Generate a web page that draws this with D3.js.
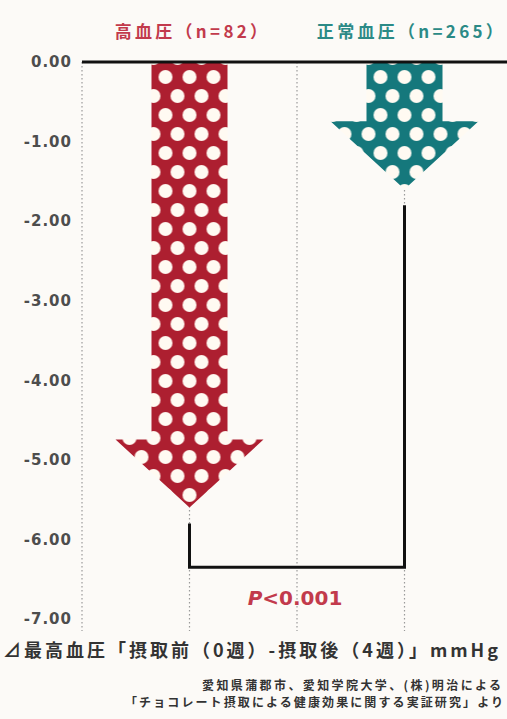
<!DOCTYPE html>
<html><head><meta charset="utf-8">
<script src="https://cdn.jsdelivr.net/npm/d3@7"></script>
<style>
html,body{margin:0;padding:0;background:#fcfaf7;}
svg{display:block;}
</style></head>
<body>
<script>
// ---- data ----
const categories = ["高血圧（n=82）", "正常血圧（n=265）"];
const values = [-5.6, -1.6];
const colors = ["#ad1f30", "#15787c"];
const labelColors = ["#c23a4c", "#2b8a86"];
const yTicks = [0, -1, -2, -3, -4, -5, -6, -7];
const bracketLevel = -6.35;
const pText = "<0.001";
const caption = "⊿最高血圧「摂取前（0週）-摂取後（4週）」mmHg";
const sourceLines = ["愛知県蒲郡市、愛知学院大学、(株)明治による", "「チョコレート摂取による健康効果に関する実証研究」より"];

const W = 507, H = 719;
const font = "'Noto Sans CJK JP','Noto Sans',sans-serif";
const svg = d3.select("body").append("svg").attr("width", W).attr("height", H);
svg.append("rect").attr("width", W).attr("height", H).attr("fill", "#fcfaf7");

const y = d3.scaleLinear().domain([0, -7]).range([62, 619]);
const x = d3.scaleLinear().domain([0, 4]).range([82, 512]);
const catX = i => x(i * 2 + 1);

// gridlines (dotted)
svg.append("g").selectAll("line").data([0, 1, 2, 3]).join("line")
  .attr("x1", d => x(d)).attr("x2", d => x(d))
  .attr("y1", y(0)).attr("y2", y(-7) + 12)
  .attr("stroke", "#9a9a9a").attr("stroke-width", 1.2)
  .attr("stroke-dasharray", "1.5,2.5");

// y axis labels
const yAxis = d3.axisLeft(y).tickValues(yTicks).tickFormat(d3.format(".2f")).tickSize(0).tickPadding(10);
const ga = svg.append("g").attr("transform", `translate(${x(0)},0)`).call(yAxis);
ga.select(".domain").remove();
ga.selectAll("text").attr("font-family", "'DejaVu Sans', sans-serif").attr("font-size", 15).attr("font-weight", "bold")
  .attr("letter-spacing", 1)
  .attr("fill", "#4d4d4d").text(d => d === 0 ? "0.00" : d3.format(".2f")(d).replace("−", "-"));

// patterns
const defs = svg.append("defs");
values.forEach((v, i) => {
  const cx = catX(i);
  const p = defs.append("pattern").attr("id", "dots" + i).attr("patternUnits", "userSpaceOnUse")
    .attr("x", cx).attr("y", 77).attr("width", 24).attr("height", 38);
  p.append("rect").attr("width", 24).attr("height", 38).attr("fill", colors[i]);
  [[0, 0], [24, 0], [0, 38], [24, 38], [12, 19]].forEach(([a, b]) =>
    p.append("circle").attr("cx", a).attr("cy", b).attr("r", 7).attr("fill", "#fffaf2"));
});

// arrows
const shaftHalf = 38, headHalf = 74, headH = 68;
values.forEach((v, i) => {
  const cx = catX(i), tip = y(v), top = y(0) + 1, sh = tip - headH;
  const path = d3.path();
  path.moveTo(cx - shaftHalf, top);
  path.lineTo(cx + shaftHalf, top);
  path.lineTo(cx + shaftHalf, sh);
  path.lineTo(cx + headHalf, sh);
  path.lineTo(cx, tip);
  path.lineTo(cx - headHalf, sh);
  path.lineTo(cx - shaftHalf, sh);
  path.closePath();
  svg.append("path").attr("d", path.toString()).attr("fill", `url(#dots${i})`);
});

// zero line
svg.append("line").attr("x1", x(0)).attr("x2", W).attr("y1", y(0)).attr("y2", y(0))
  .attr("stroke", "#111").attr("stroke-width", 3);

// category labels
svg.append("g").selectAll("text").data(categories).join("text")
  .attr("x", (d, i) => catX(i) + (i ? 7 : 3)).attr("y", 38).attr("text-anchor", "middle")
  .attr("font-family", font).attr("font-size", 17).attr("font-weight", "bold")
  .attr("letter-spacing", 3.3).attr("fill", (d, i) => labelColors[i]).text(d => d);

// bracket
const gap = 16;
const bl = y(bracketLevel);
const bp = d3.path();
bp.moveTo(catX(0), y(values[0]) + gap);
bp.lineTo(catX(0), bl);
bp.lineTo(catX(1), bl);
bp.lineTo(catX(1), y(values[1]) + gap);
svg.append("path").attr("d", bp.toString()).attr("fill", "none").attr("stroke", "#111")
  .attr("stroke-width", 3).attr("stroke-linejoin", "miter");

// p value
const pt = svg.append("text").attr("x", (catX(0) + catX(1)) / 2 - 2).attr("y", 605)
  .attr("text-anchor", "middle").attr("font-family", "'DejaVu Sans', sans-serif")
  .attr("font-size", 20).attr("font-weight", "bold").attr("fill", "#c23a4c");
pt.append("tspan").attr("font-style", "italic").text("P");
pt.append("tspan").text(pText);

// caption
svg.append("text").attr("x", 3).attr("y", 657).attr("font-family", font)
  .attr("font-size", 18).attr("font-weight", "bold").attr("letter-spacing", 3.0)
  .attr("fill", "#333").text(caption);

// source lines
svg.append("g").selectAll("text").data(sourceLines).join("text")
  .attr("x", (d, i) => i ? 125 : 202).attr("y", (d, i) => 690 + i * 17)
  .attr("font-family", font).attr("font-size", 12).attr("font-weight", "bold")
  .attr("letter-spacing", (d, i) => i ? 2.1 : 2.4).attr("fill", "#333").text(d => d);
</script>
</body></html>
